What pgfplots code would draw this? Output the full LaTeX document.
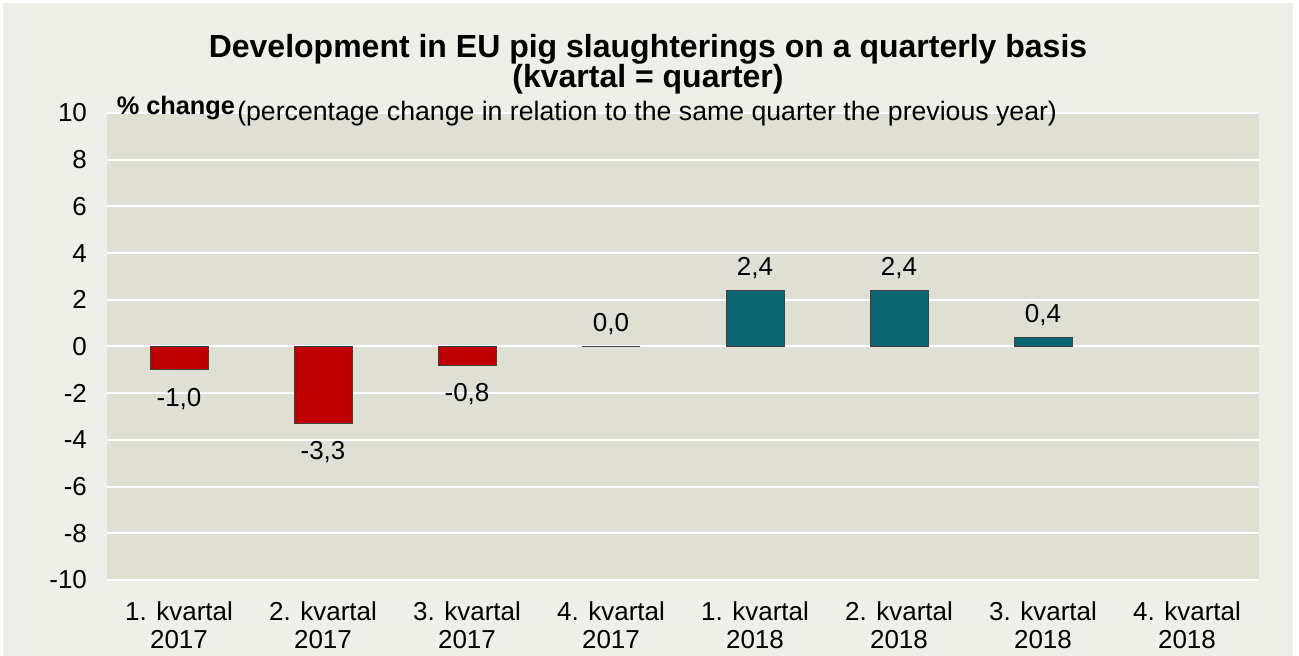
\documentclass[border=0pt]{standalone}
\usepackage{fontspec}
\setmainfont{Liberation Sans}
\usepackage{pgfplots}
\pgfplotsset{compat=1.18}
\definecolor{outerbg}{HTML}{EFEFE9}
\definecolor{plotbg}{HTML}{E0DFD4}
\definecolor{barred}{HTML}{C00000}
\definecolor{barteal}{HTML}{086672}
\begin{document}
\begin{tikzpicture}[x=0.75pt,y=0.75pt]
\fill[white] (0,0) rectangle (1299,656);
\fill[outerbg] (3,0) rectangle (1293,653);
\begin{axis}[
  at={(80.25pt,57pt)}, anchor=south west,
  scale only axis, width=864pt, height=350.25pt,
  xmin=-0.5, xmax=7.5, ymin=-10, ymax=10,
  ytick={-10,-8,...,10},
  yticklabels={-10,-8,-6,-4,-2,0,2,4,6,8,10},
  xtick={0,...,7},
  xticklabels={{1. kvartal\\2017},{2. kvartal\\2017},{3. kvartal\\2017},{4. kvartal\\2017},{1. kvartal\\2018},{2. kvartal\\2018},{3. kvartal\\2018},{4. kvartal\\2018}},
  xticklabel style={align=center, font=\fontsize{19.5}{21}\selectfont, yshift=-12.75pt},
  yticklabel style={font=\fontsize{19.5}{22}\selectfont, xshift=-11.5pt},
  axis background/.style={fill=plotbg},
  axis line style={draw=none},
  major tick length=0pt,
  ymajorgrids, grid style={white, line width=1.5pt},
  ybar, bar width=43.5pt,
  clip=false,
]
\addplot[fill=barred, draw=black!75, line width=0.6pt, bar shift=0pt,
  nodes near coords, point meta=explicit symbolic,
  nodes near coords style={anchor=north, yshift=-10pt, font=\fontsize{19.5}{22}\selectfont, text=black}]
  coordinates {(0,-1.0)[-1,0] (1,-3.3)[-3,3] (2,-0.8)[-0,8]};
\addplot[fill=barred, draw=black!75, line width=0.6pt, bar shift=0pt,
  nodes near coords, point meta=explicit symbolic,
  nodes near coords style={anchor=south, yshift=5pt, font=\fontsize{19.5}{22}\selectfont, text=black}]
  coordinates {(3,0.0)[0,0]};
\addplot[fill=barteal, draw=black!75, line width=0.6pt, bar shift=0pt,
  nodes near coords, point meta=explicit symbolic,
  nodes near coords style={anchor=south, yshift=5pt, font=\fontsize{19.5}{22}\selectfont, text=black}]
  coordinates {(4,2.4)[2,4] (5,2.4)[2,4] (6,0.4)[0,4]};
\end{axis}
\node[anchor=base, font=\fontsize{24}{28}\bfseries] at (648,598) {Development in EU pig slaughterings on a quarterly basis};
\node[anchor=base, font=\fontsize{24}{28}\bfseries] at (648,568) {(kvartal = quarter)};
\node[anchor=base west, inner sep=0pt, font=\fontsize{19}{22}\bfseries] at (116.5,541) {\% change};
\node[anchor=base west, inner sep=0pt, font=\fontsize{20}{23}\selectfont] at (237,535) {(percentage change in relation to the same quarter the previous year)};
\end{tikzpicture}
\end{document}
